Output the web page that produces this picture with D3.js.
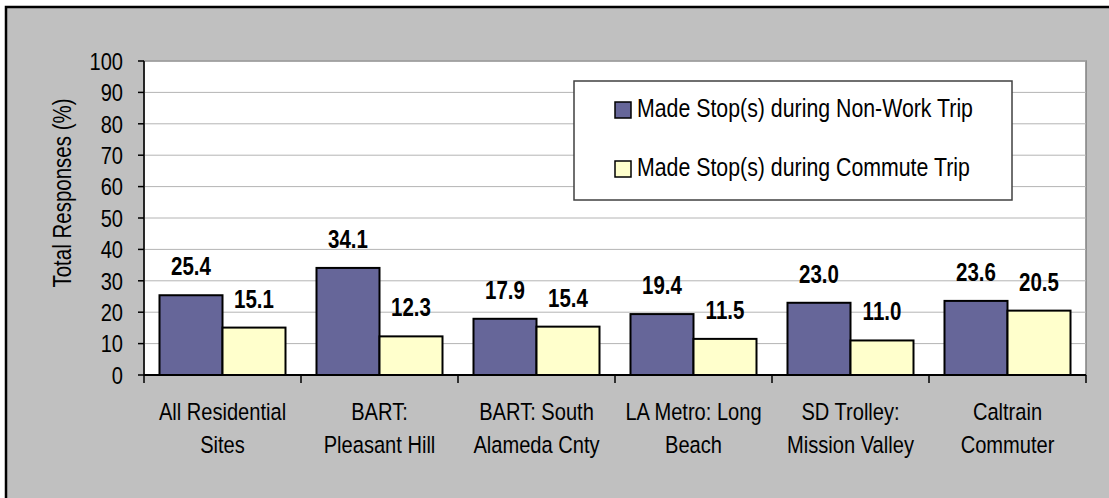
<!DOCTYPE html>
<html>
<head>
<meta charset="utf-8">
<script src="https://cdn.jsdelivr.net/npm/d3@7"></script>
<style>
  body { margin: 0; background: #fff; }
  svg text { font-family: "Liberation Sans", Arial, sans-serif; fill: #000; }
</style>
</head>
<body>
<div id="chart"></div>
<script>
var categories = [
  ["All Residential", "Sites"],
  ["BART:", "Pleasant Hill"],
  ["BART: South", "Alameda Cnty"],
  ["LA Metro: Long", "Beach"],
  ["SD Trolley:", "Mission Valley"],
  ["Caltrain", "Commuter"]
];
var nonWork = [25.4, 34.1, 17.9, 19.4, 23.0, 23.6];
var commute = [15.1, 12.3, 15.4, 11.5, 11.0, 20.5];
var seriesNames = ["Made Stop(s) during Non-Work Trip", "Made Stop(s) during Commute Trip"];
var seriesColors = ["#666699", "#ffffcc"];
var yTicks = [0, 10, 20, 30, 40, 50, 60, 70, 80, 90, 100];

var width = 1109, height = 498;
var plot = {left: 144, right: 1086, top: 61, bottom: 375};
var narrow = 0.82; // no Arial Narrow here, squeeze the regular face instead

function at(px, py) {
  return "translate(" + px + "," + py + ") scale(" + narrow + ",1)";
}

var svg = d3.select("#chart").append("svg")
    .attr("width", width)
    .attr("height", height);

// outer chart area
svg.append("rect")
    .attr("x", 6).attr("y", 7)
    .attr("width", width + 10).attr("height", height + 10)
    .attr("fill", "#c0c0c0")
    .attr("stroke", "#000")
    .attr("stroke-width", 2.5);

var keys = categories.map(function(c) { return c.join(" "); });

var x = d3.scaleBand()
    .domain(keys)
    .range([plot.left, plot.right])
    .paddingInner(0).paddingOuter(0);

var x1 = d3.scaleBand()
    .domain([0, 1])
    .range([0, x.bandwidth()])
    .paddingOuter(0.246).paddingInner(0);

var y = d3.scaleLinear()
    .domain([0, 100])
    .range([plot.bottom, plot.top]);

// plot area
svg.append("rect")
    .attr("x", plot.left).attr("y", plot.top)
    .attr("width", plot.right - plot.left)
    .attr("height", plot.bottom - plot.top)
    .attr("fill", "#fff")
    .attr("stroke", "#808080")
    .attr("stroke-width", 1.5);

// gridlines
svg.append("g").selectAll("line")
    .data(yTicks.slice(1))
    .enter().append("line")
    .attr("x1", plot.left).attr("x2", plot.right)
    .attr("y1", function(d) { return y(d); })
    .attr("y2", function(d) { return y(d); })
    .attr("stroke", "#b4b4b4")
    .attr("stroke-width", 1);

var rows = keys.map(function(k, i) {
  return {key: k, values: [nonWork[i], commute[i]]};
});

var groups = svg.append("g").selectAll("g")
    .data(rows)
    .enter().append("g")
    .attr("transform", function(d) { return "translate(" + x(d.key) + ",0)"; });

var bars = groups.selectAll("g")
    .data(function(d) { return d.values.map(function(v, j) { return {v: v, s: j}; }); })
    .enter().append("g");

bars.append("rect")
    .attr("x", function(d) { return x1(d.s); })
    .attr("width", x1.bandwidth())
    .attr("y", function(d) { return y(d.v); })
    .attr("height", function(d) { return y(0) - y(d.v); })
    .attr("fill", function(d) { return seriesColors[d.s]; })
    .attr("stroke", "#000")
    .attr("stroke-width", 2);

bars.append("text")
    .attr("transform", function(d) { return at(x1(d.s) + x1.bandwidth() / 2, y(d.v) - 20); })
    .attr("text-anchor", "middle")
    .style("font-size", "25px")
    .style("font-weight", "bold")
    .text(function(d) { return d.v.toFixed(1); });

// y axis
var yAxis = svg.append("g");
yAxis.append("line")
    .attr("x1", plot.left).attr("x2", plot.left)
    .attr("y1", plot.top).attr("y2", plot.bottom)
    .attr("stroke", "#000").attr("stroke-width", 1.5);
yAxis.selectAll(".tick")
    .data(yTicks)
    .enter().append("line")
    .attr("x1", plot.left - 6).attr("x2", plot.left)
    .attr("y1", function(d) { return y(d); })
    .attr("y2", function(d) { return y(d); })
    .attr("stroke", "#000").attr("stroke-width", 1.5);
yAxis.selectAll("text")
    .data(yTicks)
    .enter().append("text")
    .attr("transform", function(d) { return at(plot.left - 21, y(d)); })
    .attr("dy", "0.36em")
    .attr("text-anchor", "end")
    .style("font-size", "24.5px")
    .text(function(d) { return d; });

// x axis
var xAxis = svg.append("g");
xAxis.append("line")
    .attr("x1", plot.left).attr("x2", plot.right)
    .attr("y1", plot.bottom).attr("y2", plot.bottom)
    .attr("stroke", "#000").attr("stroke-width", 2);
var edges = keys.map(function(k) { return x(k); }).concat([plot.right]);
xAxis.selectAll(".tick")
    .data(edges)
    .enter().append("line")
    .attr("x1", function(d) { return d; })
    .attr("x2", function(d) { return d; })
    .attr("y1", plot.bottom).attr("y2", plot.bottom + 8)
    .attr("stroke", "#000").attr("stroke-width", 1.5);
var catLabels = xAxis.selectAll("text")
    .data(categories)
    .enter().append("text")
    .attr("transform", function(d, i) { return at(x(keys[i]) + x.bandwidth() / 2, 420); })
    .attr("text-anchor", "middle")
    .style("font-size", "24.5px");
catLabels.selectAll("tspan")
    .data(function(d) { return d; })
    .enter().append("tspan")
    .attr("x", 0)
    .attr("dy", function(d, i) { return i ? 33.5 : 0; })
    .text(function(d) { return d; });

// axis title
svg.append("text")
    .attr("transform", "translate(71,193) rotate(-90) scale(" + narrow + ",1)")
    .attr("text-anchor", "middle")
    .style("font-size", "25px")
    .text("Total Responses (%)");

// legend
var legend = svg.append("g");
legend.append("rect")
    .attr("x", 574).attr("y", 81)
    .attr("width", 438).attr("height", 119)
    .attr("fill", "#fff")
    .attr("stroke", "#404040")
    .attr("stroke-width", 1.5);
var items = legend.selectAll("g")
    .data(seriesNames)
    .enter().append("g")
    .attr("transform", function(d, i) { return "translate(615," + (102 + i * 59) + ")"; });
items.append("rect")
    .attr("width", 16).attr("height", 16)
    .attr("fill", function(d, i) { return seriesColors[i]; })
    .attr("stroke", "#000")
    .attr("stroke-width", 1.5);
items.append("text")
    .attr("transform", at(22, 15))
    .style("font-size", "26px")
    .text(function(d) { return d; });
</script>
</body>
</html>
